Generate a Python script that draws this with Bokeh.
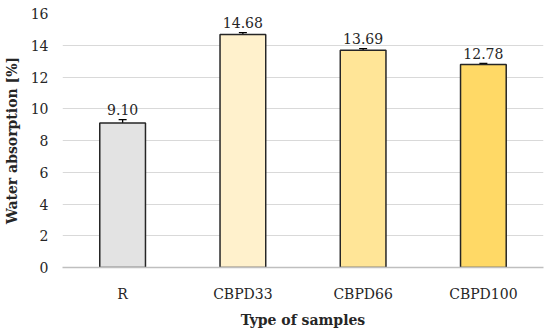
from bokeh.plotting import figure
from bokeh.models import ColumnDataSource, Whisker, FixedTicker, Range1d
from bokeh.core.properties import value
from bokeh.embed import file_html
from bokeh.resources import INLINE

categories = ["R", "CBPD33", "CBPD66", "CBPD100"]
values = [9.10, 14.68, 13.69, 12.78]
errors = [0.22, 0.12, 0.10, 0.07]
labels = ["9.10", "14.68", "13.69", "12.78"]
colors = ["#e3e3e3", "#fff1cc", "#ffe597", "#ffd966"]
y_ticks = [0, 2, 4, 6, 8, 10, 12, 14, 16]

FONT = "DejaVu Serif"

src = ColumnDataSource(dict(
    cat=categories, val=values, err=errors, lab=labels, col=colors,
    upper=[v + e for v, e in zip(values, errors)],
    lower=[v - e for v, e in zip(values, errors)],
))

p = figure(x_range=categories, y_range=Range1d(0, 16), width=546, height=330,
           output_backend="svg", toolbar_location=None,
           min_border_left=58, min_border_right=3, min_border_top=13, min_border_bottom=0)

p.vbar(x="cat", top="val", width=0.38, source=src, fill_color="col",
       line_color="#262626", line_width=1.5)

w = Whisker(source=src, base="cat", upper="upper", lower="lower",
            line_color="#000000", line_width=1.3)
w.upper_head.size = 8
w.lower_head.size = 8
w.upper_head.line_color = "#000000"
w.lower_head.line_color = "#000000"
w.upper_head.line_width = 1.3
w.lower_head.line_width = 1.3
p.add_layout(w)

p.text(x="cat", y="upper", text="lab", source=src, text_font=value(FONT),
       text_font_size="14px", text_color="#262626", text_align="center",
       text_baseline="bottom", y_offset=-5)

p.outline_line_color = None
p.xgrid.grid_line_color = None
p.ygrid.grid_line_color = "#d9d9d9"
p.ygrid.grid_line_width = 1

p.yaxis.ticker = FixedTicker(ticks=y_ticks)
p.yaxis.axis_line_color = None
p.yaxis.major_tick_line_color = None
p.yaxis.minor_tick_line_color = None
p.yaxis.major_label_text_font = FONT
p.yaxis.major_label_text_font_size = "14px"
p.yaxis.major_label_text_color = "#262626"
p.yaxis.major_label_standoff = 8
p.yaxis.axis_label = "Water absorption [%]"
p.yaxis.axis_label_text_font = FONT
p.yaxis.axis_label_text_font_size = "14px"
p.yaxis.axis_label_text_font_style = "bold"
p.yaxis.axis_label_text_color = "#262626"
p.yaxis.axis_label_standoff = 8

p.xaxis.axis_line_color = "#bfbfbf"
p.xaxis.axis_line_width = 1.5
p.xaxis.major_tick_line_color = None
p.xaxis.minor_tick_line_color = None
p.xaxis.major_label_text_font = FONT
p.xaxis.major_label_text_font_size = "14px"
p.xaxis.major_label_text_color = "#262626"
p.xaxis.major_label_standoff = 12
p.xaxis.axis_label = "Type of samples"
p.xaxis.axis_label_text_font = FONT
p.xaxis.axis_label_text_font_size = "14px"
p.xaxis.axis_label_text_font_style = "bold"
p.xaxis.axis_label_text_color = "#262626"
p.xaxis.axis_label_standoff = 7

open("out.html", "w").write(file_html(p, INLINE))
